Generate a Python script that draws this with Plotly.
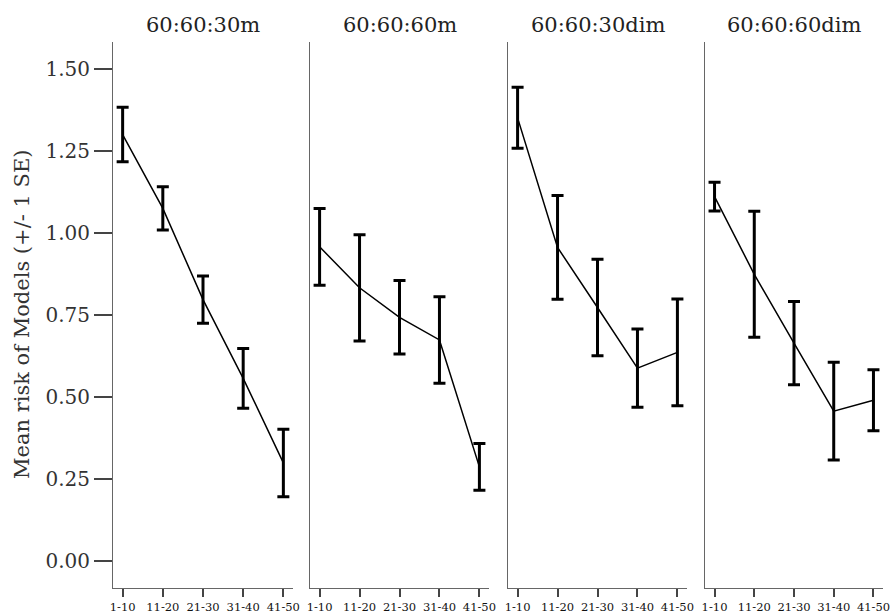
import plotly.graph_objects as go

categories = ["1-10", "11-20", "21-30", "31-40", "41-50"]
panel_titles = ["60:60:30m", "60:60:60m", "60:60:30dim", "60:60:60dim"]

mean_30m = [1.300, 1.075, 0.797, 0.557, 0.299]
se_30m = [0.083, 0.066, 0.072, 0.091, 0.103]

mean_60m = [0.958, 0.833, 0.743, 0.674, 0.287]
se_60m = [0.117, 0.162, 0.112, 0.132, 0.071]

mean_30dim = [1.351, 0.956, 0.773, 0.588, 0.636]
se_30dim = [0.093, 0.158, 0.147, 0.119, 0.163]

mean_60dim = [1.111, 0.874, 0.664, 0.457, 0.490]
se_60dim = [0.044, 0.192, 0.127, 0.149, 0.093]

y_ticks = [0.0, 0.25, 0.5, 0.75, 1.0, 1.25, 1.5]
y_title = "Mean risk of Models (+/- 1 SE)"

means = [mean_30m, mean_60m, mean_30dim, mean_60dim]
ses = [se_30m, se_60m, se_30dim, se_60dim]

W, H = 891, 615
ml, mr, mt, mb = 113, 8, 42, 27
pw = W - ml - mr
px_domains = [(113, 293), (310, 489), (508, 687), (705, 883)]
domains = [((a - ml) / pw, (b - ml) / pw) for a, b in px_domains]

FONT = "DejaVu Serif"
fig = go.Figure()
for i in range(4):
    sfx = "" if i == 0 else str(i + 1)
    fig.add_trace(go.Scatter(
        x=list(range(len(categories))), y=means[i],
        mode="lines",
        line=dict(color="black", width=1.5),
        error_y=dict(type="data", array=ses[i], visible=True,
                     color="black", thickness=3, width=6),
        xaxis="x" + sfx, yaxis="y" + sfx, showlegend=False,
        hoverinfo="skip",
    ))
    fig.layout["xaxis" + sfx] = dict(
        domain=list(domains[i]), anchor="y" + sfx, automargin=False,
        range=[-0.24, 4.24], tickmode="array",
        tickvals=list(range(len(categories))), ticktext=categories,
        showline=True, linecolor="#666", linewidth=1,
        ticks="outside", ticklen=8, tickwidth=2, tickcolor="#444",
        showgrid=False, zeroline=False,
        tickfont=dict(family=FONT, size=11.5, color="#111"),
    )
    ydict = dict(
        domain=[0, 1], anchor="x" + sfx, automargin=False,
        range=[-0.0823, 1.5823],
        showline=True, linecolor="#666", linewidth=1,
        showgrid=False, zeroline=False,
    )
    if i == 0:
        ydict.update(tickmode="array", tickvals=y_ticks,
                     ticktext=["%.2f" % v for v in y_ticks],
                     ticks="outside", ticklen=18, tickwidth=2, tickcolor="#444",
                     tickfont=dict(family=FONT, size=20, color="#333"))
    else:
        ydict.update(showticklabels=False, ticks="")
    fig.layout["yaxis" + sfx] = ydict

annotations = []
for i in range(4):
    cx = (domains[i][0] + domains[i][1]) / 2
    annotations.append(dict(
        x=cx, y=1 + 17 / (H - mt - mb), xref="paper", yref="paper",
        text=panel_titles[i], showarrow=False, xanchor="center", yanchor="middle",
        font=dict(family=FONT, size=21, color="#222"),
    ))
annotations.append(dict(
    x=(22 - ml) / pw, y=0.5, xref="paper", yref="paper",
    text=y_title, showarrow=False, textangle=-90,
    xanchor="center", yanchor="middle",
    font=dict(family=FONT, size=21, color="#333"),
))

fig.update_layout(
    width=W, height=H,
    margin=dict(l=ml, r=mr, t=mt, b=mb),
    paper_bgcolor="white", plot_bgcolor="white",
    annotations=annotations,
)
fig.write_html(
    "out.html",
    config={"displayModeBar": False},
    post_script="document.body.style.margin='0';document.body.style.overflow='hidden';",
)
